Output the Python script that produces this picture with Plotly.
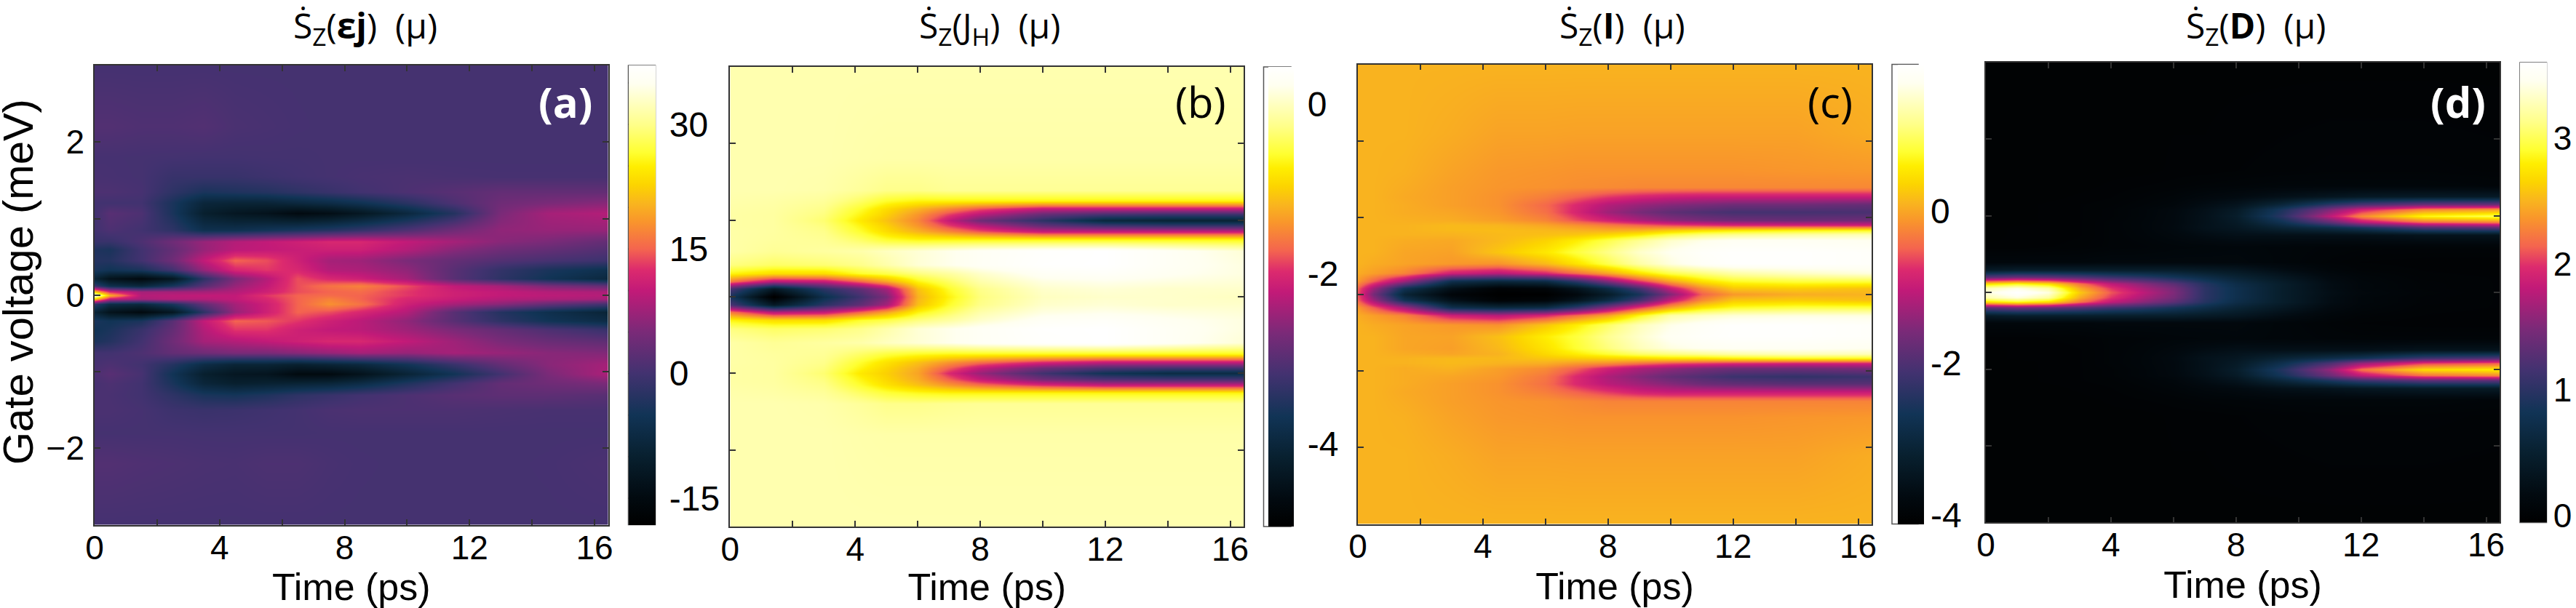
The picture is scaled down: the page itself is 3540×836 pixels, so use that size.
import plotly.graph_objects as go

# colour table
palette = [
    [0.0, "#000000"], [0.06, "#020a10"], [0.15, "#08202f"], [0.24, "#113456"],
    [0.33, "#423270"], [0.42, "#7a2a78"], [0.51, "#c21a78"], [0.555, "#dc2a6e"],
    [0.60, "#f4644f"], [0.66, "#f9952c"], [0.70, "#f9b51e"], [0.74, "#fcd400"],
    [0.78, "#ffee00"], [0.81, "#ffff30"], [0.87, "#ffff88"], [0.96, "#fffff0"],
    [1.0, "#ffffff"],
]

time_labelled = [0, 4, 8, 12, 16]
time_minor = [2, 6, 10, 14]
volt_labelled = [-2, 0, 2]
volt_minor = [-1, 1]

# panel (a)
a_time = [0, 0.5, 1.5, 2.5, 3.5, 4.5, 5.5, 6.5, 7.5, 8.5, 10, 11.5, 13, 14.5, 16.43]
a_volt = [-3, -2.2, -1.8, -1.5, -1.3, -1.15, -1.03, -0.9, -0.75, -0.6, -0.45, -0.33, -0.22, -0.12, -0.05, 0,
          0.05, 0.12, 0.22, 0.33, 0.45, 0.6, 0.7, 0.85, 1.07, 1.2, 1.35, 1.55, 1.8, 2.2, 3]
a_z = [
    [.3, .3, .3, .3, .3, .3, .3, .3, .3, .3, .3, .3, .3, .3, .3],
    [1.5, 1.5, 1.2, 1, .8, .7, 1, 1, .6, .4, .3, .3, .3, .4, .8],
    [.3, .3, .3, .3, .2, .2, .2, .2, .3, .3, .3, .3, .3, .3, .3],
    [.8, .8, .4, -.5, -.8, -.6, -.2, .2, .8, 1, 1, 1, .8, .6, .6],
    [.8, .7, 0, -2, -4, -4.5, -3.5, -2, -1, 0, 1, 2, 2.5, 2.5, 2],
    [.5, 1, 0, -4, -8.5, -10, -9.5, -9, -8.5, -7, -3.5, 0, 3, 4, 5],
    [1, 2, .5, -5, -10, -12, -12.5, -15, -15, -13, -9, -5, 0, 5, 8.5],
    [.5, 1, 0, -3, -7, -9, -9, -10, -9, -8, -5, -1, 3, 6, 8],
    [0, 0, 1, 3, 4, 5, 5, 6, 7, 8, 7, 8, 7, 6, 5.5],
    [-4, -3, 0, 4, 8, 9, 10, 11, 12, 12, 10, 7.5, 5, 3.5, 2.5],
    [-5, -4, -1, 3, 9, 13, 13, 11, 10, 9.5, 7.5, 5, 3, 1, -1],
    [-4, -5, -4, 2, 10, 15, 14.5, 13, 11, 9.5, 6.5, 2, -2, -5, -7],
    [-9, -13, -15, -12, -2, 7, 11, 15, 14, 12, 9, 2, -3, -6, -9],
    [-2, -7, -8, -4, 3, 8, 11, 15, 18, 16, 11, 8, 6, 3, 0],
    [22, 10, 8, 9, 9, 10, 12, 15, 17, 15, 12, 10.5, 9, 8.5, 8],
    [37, 20, 9, 9.5, 10, 10, 13, 15, 15.5, 15, 13, 11, 10, 9.5, 9],
    [22, 12, 8, 8, 8, 9, 11, 14, 15, 15.5, 13, 11, 10, 9, 8.5],
    [-1, -6, -8, -4, 2, 7, 10, 14, 16, 17, 14, 10, 8, 5, 3],
    [-9, -13, -15, -12, -2, 5, 9, 14, 12, 11, 8, 2, -2, -5, -8],
    [-4, -5, -4, 0, 7, 12, 13, 12, 9, 8.5, 6.5, 2, -1.5, -4, -6],
    [-3, -3, 0, 4, 10, 15, 14, 11, 8, 7.5, 5, 3, 1.5, .5, -.5],
    [-3.5, -4, 0, 3, 7, 9.5, 10, 10.5, 11, 11, 9, 6, 4, 3, 1.5],
    [-1, -1, 1, 4, 7, 9, 10, 11, 12, 12, 10, 8, 6, 5, 3],
    [0, 1, 0, -2, -6, -6, -5, -4, -3, -1.5, 1, 4, 6.5, 7, 7],
    [0, 2, 1, -4, -10, -12, -13, -15, -14, -12, -8, -3, 5, 8, 9],
    [0, 0, 0, -4, -8.5, -9, -9, -8, -7, -5.5, -2.5, 1, 4, 5, 6],
    [1, 1, .5, -2, -4, -3.5, -3, -2, -1, 0, 1, 2, 3, 3, 3],
    [.6, .5, .3, -1, -1, -1, -.5, 0, .3, .6, .8, .6, .5, .5, .5],
    [.4, .4, .3, .2, .1, .1, .2, .2, .3, .3, .3, .3, .3, .3, .3],
    [1.5, 1.5, 1.2, 1.2, 1.5, .8, .6, .4, .3, .3, .3, .3, .3, .3, .3],
    [.3, .3, .3, .3, .3, .3, .3, .3, .3, .3, .3, .3, .3, .3, .3],
]

# panel (b)
b_time = [0, 1.4, 3, 4.2, 5, 6, 7, 8, 10, 12, 14, 16.43]
b_volt = [-3, -1.8, -1.4, -1.25, -1.15, -1.07, -1, -.93, -.85, -.75, -.6, -.42, -.3, -.2, -.1, 0,
          .1, .2, .3, .42, .6, .75, .85, .93, 1, 1.07, 1.15, 1.25, 1.4, 1.8, 3]
b_z = [
    [-.08, -.08, -.08, -.08, -.08, -.08, -.08, -.08, -.08, -.08, -.08, -.08],
    [-.08, -.08, -.08, -.1, -.11, -.11, -.11, -.11, -.11, -.11, -.11, -.11],
    [-.08, -.08, -.1, -.18, -.25, -.25, -.22, -.2, -.2, -.2, -.2, -.2],
    [-.1, -.12, -.18, -.4, -.55, -.65, -.7, -.7, -.7, -.7, -.7, -.7],
    [-.12, -.14, -.25, -.6, -.85, -1.1, -1.4, -1.65, -2, -2.2, -2.2, -2.2],
    [-.13, -.15, -.3, -.7, -.95, -1.25, -1.75, -2.2, -2.8, -3.1, -3.2, -3.2],
    [-.13, -.15, -.35, -.8, -1, -1.3, -2, -2.5, -3.2, -3.7, -3.9, -3.9],
    [-.13, -.15, -.3, -.7, -.95, -1.25, -1.75, -2.2, -2.8, -3.1, -3.2, -3.2],
    [-.12, -.15, -.25, -.6, -.85, -1.1, -1.4, -1.65, -2, -2.2, -2.2, -2.2],
    [-.12, -.16, -.2, -.4, -.55, -.65, -.7, -.7, -.7, -.7, -.7, -.7],
    [-.12, -.2, -.15, -.1, 0, .1, .2, .3, .4, .44, .3, .1],
    [-.3, -.4, -.35, -.25, -.1, .1, .2, .3, .42, .44, .3, .15],
    [-.7, -.9, -.9, -.6, -.5, -.3, -.15, .05, .3, .35, .25, .15],
    [-1.6, -2.3, -2.2, -1.7, -1.3, -.7, -.4, -.1, .15, .2, .15, .1],
    [-3.1, -4.3, -3.4, -2.9, -2.4, -1.1, -.6, -.25, .05, .1, .05, .05],
    [-3.6, -5, -3.8, -3.2, -2.7, -1.2, -.7, -.3, 0, .05, .05, 0],
    [-3.1, -4.3, -3.4, -2.9, -2.4, -1.1, -.6, -.25, .05, .1, .05, .05],
    [-1.6, -2.3, -2.2, -1.7, -1.3, -.7, -.4, -.1, .15, .2, .15, .1],
    [-.7, -.9, -.9, -.6, -.5, -.3, -.15, .05, .3, .35, .25, .15],
    [-.3, -.4, -.35, -.25, -.1, .1, .2, .3, .42, .44, .3, .15],
    [-.12, -.2, -.15, -.1, 0, .1, .2, .3, .4, .44, .3, .1],
    [-.12, -.16, -.2, -.4, -.6, -.7, -.7, -.7, -.7, -.7, -.7, -.7],
    [-.12, -.15, -.25, -.6, -.9, -1.2, -1.5, -1.8, -2.2, -2.2, -2.2, -2.2],
    [-.13, -.15, -.3, -.7, -1, -1.4, -1.9, -2.3, -2.9, -3.2, -3.3, -3.3],
    [-.13, -.15, -.35, -.8, -1.1, -1.5, -2.2, -2.8, -3.4, -4, -4.1, -4.1],
    [-.13, -.15, -.3, -.7, -1, -1.4, -1.9, -2.3, -2.9, -3.2, -3.3, -3.3],
    [-.12, -.14, -.25, -.6, -.9, -1.2, -1.5, -1.8, -2.2, -2.2, -2.2, -2.2],
    [-.1, -.12, -.18, -.4, -.6, -.7, -.7, -.7, -.7, -.7, -.7, -.7],
    [-.08, -.08, -.1, -.18, -.25, -.25, -.2, -.2, -.2, -.2, -.2, -.2],
    [-.08, -.08, -.08, -.1, -.11, -.11, -.11, -.11, -.11, -.11, -.11, -.11],
    [-.08, -.08, -.08, -.08, -.08, -.08, -.08, -.08, -.08, -.08, -.08, -.08],
]

# panel (c)
c_time = [0, .5, 1.5, 3, 4.5, 6, 7, 8, 9, 10, 11, 12, 14, 16.43]
c_volt = [-3, -2.1, -1.6, -1.4, -1.27, -1.17, -1.07, -.97, -.9, -.84, -.78, -.7, -.55, -.4, -.28, -.17, -.08, 0,
          .08, .17, .28, .4, .55, .7, .78, .84, .9, .97, 1.07, 1.17, 1.27, 1.4, 1.6, 2.1, 3]
c_z = [
    [.1, .1, .1, .1, .1, .1, .1, .1, .1, .1, .1, .1, .1, .1],
    [.1, .1, .1, .05, -.02, -.02, -.03, -.03, -.03, -.03, -.03, -.03, -.03, .05],
    [.1, .1, .08, -.02, -.1, -.12, -.14, -.14, -.14, -.14, -.14, -.14, -.12, -.1],
    [.1, .1, .05, -.05, -.12, -.15, -.2, -.25, -.25, -.25, -.25, -.25, -.25, -.25],
    [.1, .1, .03, -.05, -.15, -.3, -.5, -.7, -.9, -1, -1, -1, -1, -1],
    [.1, .1, .05, -.05, -.15, -.4, -.8, -1.1, -1.3, -1.5, -1.7, -1.8, -1.9, -1.9],
    [.1, .1, .05, 0, -.1, -.35, -.8, -1.2, -1.5, -1.8, -2, -2.2, -2.3, -2.2],
    [.1, .1, .05, .1, -.05, -.2, -.5, -.9, -1.2, -1.4, -1.6, -1.7, -1.7, -1.6],
    [.1, .1, .1, .15, .1, .05, -.1, -.2, -.4, -.6, -.7, -.8, -.9, -.9],
    [.1, .1, .1, .15, .15, .25, .3, .35, .4, .5, .5, .6, .7, .7],
    [.1, .1, .05, 0, .1, .4, .6, .8, 1, 1.1, 1.2, 1.3, 1.4, 1.4],
    [.1, .1, 0, -.05, .15, .5, .8, 1.1, 1.4, 1.6, 1.7, 1.75, 1.75, 1.7],
    [.1, .1, 0, -.02, .2, .6, .85, 1.2, 1.5, 1.75, 1.85, 1.9, 1.9, 1.85],
    [.1, .05, -.02, -.1, -.15, .25, .6, 1, 1.4, 1.65, 1.8, 1.9, 1.9, 1.85],
    [.05, -.05, -.25, -.9, -1.1, -.8, -.4, 0, .7, 1.3, 1.45, 1.55, 1.6, 1.6],
    [-.1, -.5, -1.3, -2.8, -3, -2.9, -2.3, -1.5, -.7, 0, .5, .75, .85, .85],
    [-.5, -1.3, -2.7, -3.6, -4, -3.9, -3.5, -2.9, -2.1, -1, -.2, .25, .3, .2],
    [-.6, -1.6, -3.1, -3.9, -4.1, -4.1, -3.8, -3.3, -2.6, -1.5, -.5, -.1, .05, .1],
    [-.5, -1.3, -2.7, -3.6, -4, -3.9, -3.5, -2.9, -2.1, -1, -.2, .25, .3, .2],
    [-.1, -.5, -1.3, -2.8, -3, -2.9, -2.3, -1.5, -.7, 0, .5, .75, .85, .85],
    [.05, -.05, -.25, -.9, -1.1, -.8, -.4, 0, .5, .9, 1.1, 1.3, 1.45, 1.6],
    [.1, .05, -.02, -.1, -.15, .15, .5, .9, 1.3, 1.6, 1.8, 1.9, 1.9, 1.85],
    [.1, .1, 0, -.03, .25, .55, .85, 1.15, 1.5, 1.7, 1.85, 1.9, 1.9, 1.85],
    [.1, .1, .05, .02, .15, .35, .6, .9, 1.2, 1.5, 1.65, 1.75, 1.75, 1.7],
    [.1, .1, .1, .1, .15, .2, .25, .4, .6, .9, 1.1, 1.2, 1.3, 1.4],
    [.1, .1, .1, .15, .17, .15, .1, .05, .1, .3, .45, .55, .65, .7],
    [.1, .1, .1, .15, .12, 0, -.15, -.3, -.45, -.6, -.7, -.8, -.85, -.9],
    [.1, .1, .08, .05, -.05, -.25, -.6, -.9, -1.2, -1.45, -1.6, -1.7, -1.75, -1.7],
    [.1, .1, .05, 0, -.12, -.4, -.85, -1.3, -1.6, -1.85, -2, -2.1, -2.1, -2.05],
    [.1, .1, .05, -.05, -.15, -.45, -.8, -1.15, -1.35, -1.5, -1.6, -1.7, -1.7, -1.8],
    [.1, .1, .03, -.05, -.15, -.3, -.5, -.7, -.85, -.95, -1, -1, -1, -1],
    [.1, .1, .05, -.05, -.12, -.15, -.18, -.2, -.22, -.22, -.22, -.22, -.22, -.22],
    [.1, .1, .08, -.02, -.1, -.12, -.14, -.14, -.14, -.14, -.14, -.14, -.12, -.1],
    [.1, .1, .1, .05, -.02, -.02, -.03, -.03, -.03, -.03, -.03, -.03, -.03, .05],
    [.1, .1, .1, .1, .1, .1, .1, .1, .1, .1, .1, .1, .1, .1],
]

# panel (d)
d_time = [0, 1, 2, 3, 4, 5, 6, 7, 8, 9.5, 11, 12, 14, 16.43]
d_volt = [-3, -1.6, -1.4, -1.25, -1.15, -1.08, -1, -.92, -.85, -.75, -.6, -.4, -.3, -.2, -.12, -.06, 0,
          .06, .12, .2, .3, .4, .6, .75, .85, .92, 1, 1.08, 1.15, 1.25, 1.4, 1.6, 3]
d_z = [
    [0, 0, 0, 0, 0, 0, 0, 0, 0, 0, 0, 0, 0, 0],
    [0, 0, 0, 0, 0, 0, .01, .01, .02, .03, .04, .04, .04, .03],
    [0, 0, 0, 0, .01, .02, .03, .05, .06, .08, .08, .08, .08, .06],
    [0, 0, 0, .01, .02, .04, .07, .12, .16, .25, .3, .35, .4, .4],
    [0, 0, .01, .02, .03, .06, .1, .2, .3, .6, .9, 1.1, 1.3, 1.3],
    [0, 0, .01, .02, .04, .08, .14, .25, .4, .85, 1.4, 1.8, 2.2, 2.3],
    [0, 0, .01, .02, .04, .08, .15, .27, .45, .95, 1.6, 2.2, 2.7, 2.8],
    [0, 0, .01, .02, .05, .09, .15, .27, .4, .75, 1.2, 1.6, 2, 2.1],
    [0, .01, .01, .02, .05, .09, .16, .28, .35, .55, .7, .8, 1.1, 1.2],
    [0, .01, .01, .02, .05, .08, .13, .2, .25, .25, .25, .25, .3, .3],
    [.01, .01, .02, .03, .05, .06, .08, .09, .1, .08, .06, .05, .05, .05],
    [.1, .1, .1, .1, .12, .12, .12, .12, .12, .08, .04, .02, .01, .01],
    [.4, .45, .45, .45, .45, .45, .45, .4, .35, .2, .08, .04, .02, .01],
    [1.3, 1.4, 1.35, 1.25, 1.1, 1, .85, .7, .55, .35, .15, .08, .03, .02],
    [2.7, 2.85, 2.7, 2.2, 1.8, 1.55, 1.3, .95, .7, .45, .2, .1, .04, .02],
    [3.25, 3.4, 3.2, 2.45, 2, 1.7, 1.45, 1, .75, .45, .2, .1, .04, .02],
    [3.4, 3.6, 3.4, 2.6, 2.1, 1.8, 1.5, 1, .75, .45, .22, .12, .05, .02],
    [3.25, 3.4, 3.2, 2.45, 2, 1.7, 1.45, 1, .75, .45, .2, .1, .04, .02],
    [2.7, 2.85, 2.7, 2.2, 1.8, 1.55, 1.3, .95, .7, .45, .2, .1, .04, .02],
    [1.3, 1.4, 1.35, 1.25, 1.1, 1, .85, .7, .55, .35, .15, .08, .03, .02],
    [.4, .45, .45, .45, .45, .45, .45, .4, .35, .2, .08, .04, .02, .01],
    [.1, .1, .1, .1, .12, .12, .12, .12, .12, .08, .04, .02, .01, .01],
    [.01, .01, .02, .03, .05, .06, .08, .09, .1, .08, .06, .05, .05, .05],
    [0, .01, .01, .02, .05, .08, .13, .2, .25, .25, .25, .25, .3, .3],
    [0, .01, .01, .02, .05, .09, .16, .28, .35, .55, .7, .85, 1.2, 1.3],
    [0, 0, .01, .02, .05, .09, .15, .27, .4, .8, 1.35, 1.8, 2.2, 2.3],
    [0, 0, .01, .02, .04, .08, .15, .27, .45, 1, 1.8, 2.3, 2.85, 3],
    [0, 0, .01, .02, .04, .08, .14, .25, .4, .9, 1.5, 1.9, 2.3, 2.4],
    [0, 0, .01, .02, .03, .06, .1, .2, .3, .6, 1, 1.2, 1.4, 1.4],
    [0, 0, 0, .01, .02, .04, .07, .12, .16, .25, .33, .38, .4, .4],
    [0, 0, 0, 0, .01, .02, .03, .05, .06, .08, .08, .08, .08, .06],
    [0, 0, 0, 0, 0, 0, .01, .01, .02, .03, .04, .04, .04, .03],
    [0, 0, 0, 0, 0, 0, 0, 0, 0, 0, 0, 0, 0, 0],
]

W, H = 3540, 836

# box = plot x0, x1, y0, y1; grad / frame = colourbar x0, x1 (pixels)
panels = [
    dict(t=a_time, v=a_volt, z=a_z, box=(130, 835.5, 90, 721.6), grad=(863.5, 900.5), frame=(863.5, 900.5),
         zr=(-18.2, 37.1), labelled=[-15, 0, 15, 30], marks=[-15, -10, -5, 0, 5, 10, 15, 20, 25, 30, 35],
         cbsize=48, cbpad="\u2009",
         title="Ṡ<sub>Z</sub>(<b>εj</b>)  (μ)", tx=502, tag="(a)", tagc="white", tagx=777),
    dict(t=b_time, v=b_volt, z=b_z, box=(1003.4, 1709, 92, 724), grad=(1743, 1778), frame=(1736.5, 1774),
         zr=(-4.98, 0.44), labelled=[-4, -2, 0], marks=[-4.5, -4, -3.5, -3, -2.5, -2, -1.5, -1, -.5, 0],
         cbsize=48, cbpad="\u2009",
         title="Ṡ<sub>Z</sub>(J<sub>H</sub>)  (μ)", tx=1360, tag="(b)", tagc="black", tagx=1650),
    dict(t=c_time, v=c_volt, z=c_z, box=(1866, 2572, 88.5, 720.5), grad=(2608, 2644), frame=(2600, 2636),
         zr=(-4.117, 1.93), labelled=[-4, -2, 0], marks=[-4, -3, -2, -1, 0, 1],
         cbsize=48, cbpad="",
         title="Ṡ<sub>Z</sub>(<b>I</b>)  (μ)", tx=2229, tag="(c)", tagc="black", tagx=2515),
    dict(t=d_time, v=d_volt, z=d_z, box=(2729, 3435, 86, 718.4), grad=(3463, 3499.5), frame=(3463, 3499.5),
         zr=(-0.055, 3.6), labelled=[0, 1, 2, 3], marks=[.5, 1, 1.5, 2, 2.5, 3, 3.5],
         cbsize=46, cbpad="",
         title="Ṡ<sub>Z</sub>(<b>D</b>)  (μ)", tx=3100, tag="(d)", tagc="white", tagx=3378),
]

fig = go.Figure()
axis_style = dict(showline=True, linecolor="#333333", linewidth=1.5, mirror="ticks", ticks="inside",
                  ticklen=8, tickwidth=1.5, tickcolor="#333333", showgrid=False, zeroline=False)

for i, p in enumerate(panels, start=1):
    x0, x1, y0, y1 = p["box"]
    g0, g1 = p["grad"]
    zmin, zmax = p["zr"]
    fig.add_trace(go.Heatmap(
        x=p["t"], y=p["v"], z=p["z"], zsmooth="best", colorscale=palette,
        zmin=zmin, zmax=zmax, xaxis=f"x{i}", yaxis=f"y{i}",
        colorbar=dict(x=g0 / W, xanchor="left", xpad=0, thickness=g1 - g0, thicknessmode="pixels",
                      y=1 - y1 / H, yanchor="bottom", ypad=0, len=(y1 - y0) / H, lenmode="fraction",
                      outlinewidth=0, tickmode="array", tickvals=p["labelled"],
                      ticktext=[f"{p['cbpad']}{v}" for v in p["labelled"]], ticks="outside", ticklen=0,
                      tickfont=dict(family="Liberation Sans", size=p["cbsize"], color="black")),
    ))
    fig.update_layout({
        f"xaxis{i}": dict(axis_style, domain=[x0 / W, x1 / W], range=[0, 16.43], tickmode="array",
                          tickvals=time_labelled, anchor=f"y{i}", ticklabelstandoff=-10,
                          tickfont=dict(family="Liberation Sans", size=46, color="black"),
                          minor=dict(tickmode="array", tickvals=time_minor, ticks="inside", ticklen=8,
                                     tickwidth=1.5, tickcolor="#333333"),
                          title=dict(text="Time (ps)", standoff=4,
                                     font=dict(family="Liberation Sans", size=52, color="black"))),
        f"yaxis{i}": dict(axis_style, domain=[1 - y1 / H, 1 - y0 / H], range=[-3, 3], tickmode="array",
                          tickvals=volt_labelled, showticklabels=i == 1, anchor=f"x{i}", ticklabelstandoff=3,
                          tickfont=dict(family="Liberation Sans", size=46, color="black"),
                          minor=dict(tickmode="array", tickvals=volt_minor, ticks="inside", ticklen=8,
                                     tickwidth=1.5, tickcolor="#333333")),
    })
    fig.add_annotation(text=p["title"], x=p["tx"] / W, y=1 - 37 / H, xref="paper", yref="paper", showarrow=False,
                       xanchor="center", yanchor="middle", font=dict(family="Open Sans", size=48, color="black"))
    tag = f"<b>{p['tag']}</b>" if p["tagc"] == "white" else p["tag"]
    fig.add_annotation(text=tag, x=p["tagx"] / W, y=1 - 139 / H, xref="paper", yref="paper", showarrow=False,
                       xanchor="center", yanchor="middle", font=dict(family="Open Sans", size=58, color=p["tagc"]))
    # colourbar frame does not always line up with the gradient
    fig.add_shape(type="rect", xref="paper", yref="paper", x0=p["frame"][0] / W, x1=p["frame"][1] / W,
                  y0=1 - y1 / H, y1=1 - y0 / H, line=dict(color="#555555", width=1.5))
    for m in p["marks"]:
        my = y1 - (m - zmin) / (zmax - zmin) * (y1 - y0)
        fig.add_shape(type="line", xref="paper", yref="paper", x0=(g1 - 8) / W, x1=g1 / W,
                      y0=1 - my / H, y1=1 - my / H, line=dict(color="#333333", width=1.5))
        if i in (1, 4):
            fig.add_shape(type="line", xref="paper", yref="paper", x0=g0 / W, x1=(g0 + 8) / W,
                          y0=1 - my / H, y1=1 - my / H, line=dict(color="#333333", width=1.5))

fig.add_annotation(text="Gate voltage (meV)", x=24 / W, y=1 - 388 / H, xref="paper", yref="paper", textangle=-90,
                   xanchor="center", yanchor="middle", showarrow=False,
                   font=dict(family="Liberation Sans", size=58, color="black"))

fig.update_layout(width=W, height=H, autosize=False, margin=dict(l=0, r=0, t=0, b=0, autoexpand=False),
                  paper_bgcolor="white", plot_bgcolor="white", showlegend=False)

fig.write_html("out.html", config=dict(displayModeBar=False), post_script="document.body.style.margin='0';")
